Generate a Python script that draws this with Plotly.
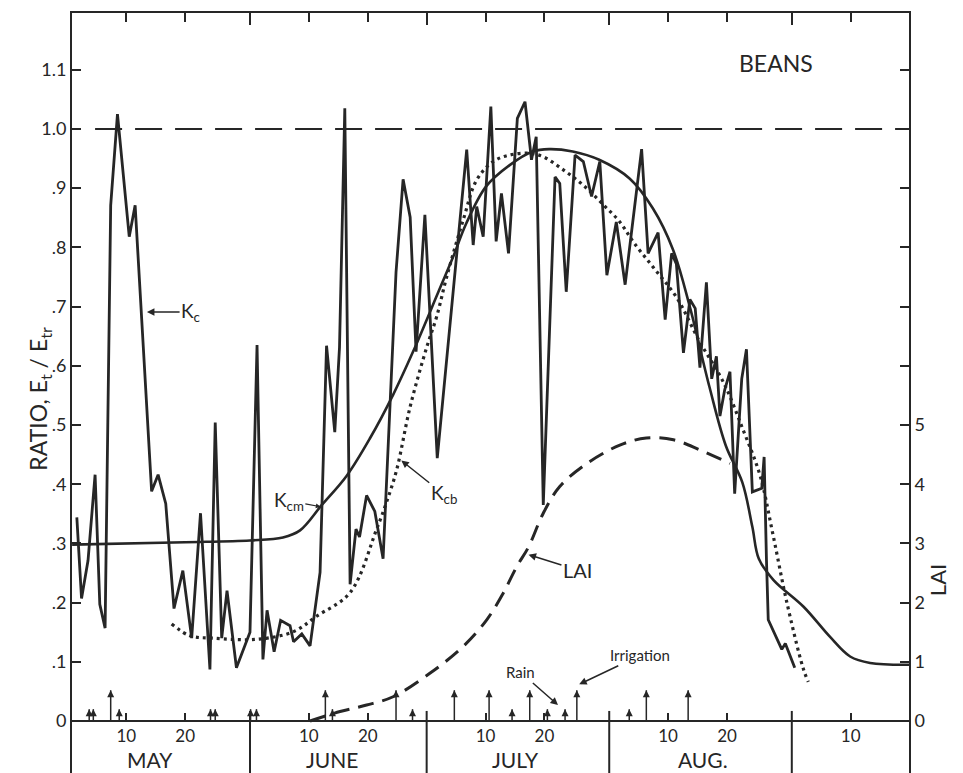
import plotly.graph_objects as go

# x axis: day of season (May d -> d, June d -> 31+d, July d -> 61+d, Aug d -> 92+d, Sep d -> 123+d)
kc_day = [1.6, 2.4, 3.5, 4.7, 5.5, 6.4, 7.35, 8.5, 10.5, 11.5, 14.3, 15.4, 16.7, 18.1, 19.6,
          21.1, 22.6, 24.2, 25.1, 26.2, 27.1, 28.7, 31.0, 32.2, 33.2, 33.9, 35.1, 36.2, 37.8,
          38.4, 39.8, 41.2, 42.9, 44.0, 45.4, 46.2, 47.1, 48.0, 49.0, 49.6, 50.8, 52.2, 53.6,
          55.8, 57.0, 58.2, 59.2, 60.7, 62.8, 66.7, 67.8, 68.9, 69.5, 70.6, 71.9, 72.8, 73.7,
          74.9, 76.4, 77.7, 78.8, 79.6, 80.8, 82.8, 83.6, 84.7, 86.2, 87.6, 89.0, 90.4, 91.6,
          93.2, 94.7, 97.5, 98.6, 100.3, 101.5, 102.6, 103.4, 104.6, 105.7, 106.6, 107.4,
          108.5, 109.1, 109.4, 110.2, 110.8, 111.6, 112.5, 113.3, 114.5, 115.3, 116.3, 117.9,
          118.3, 118.7, 119.0, 121.3, 121.9, 123.5]
kc_val = [0.344, 0.207, 0.271, 0.416, 0.197, 0.157, 0.871, 1.025, 0.818, 0.871, 0.388, 0.416,
          0.367, 0.190, 0.254, 0.140, 0.351, 0.087, 0.504, 0.140, 0.220, 0.090, 0.150, 0.635,
          0.104, 0.187, 0.117, 0.170, 0.161, 0.134, 0.147, 0.127, 0.251, 0.634, 0.488, 0.631,
          1.035, 0.231, 0.324, 0.311, 0.381, 0.354, 0.274, 0.758, 0.915, 0.851, 0.624, 0.855,
          0.444, 0.846, 0.965, 0.804, 0.869, 0.818, 1.038, 0.810, 0.891, 0.790, 1.018, 1.046,
          0.948, 0.987, 0.365, 0.919, 0.908, 0.725, 0.956, 0.945, 0.886, 0.945, 0.753, 0.843,
          0.737, 0.966, 0.790, 0.825, 0.678, 0.790, 0.772, 0.622, 0.712, 0.697, 0.597, 0.741,
          0.619, 0.578, 0.616, 0.515, 0.559, 0.590, 0.384, 0.578, 0.628, 0.387, 0.393, 0.446,
          0.271, 0.171, 0.121, 0.131, 0.090]

kcm_day = [0.8, 20.0, 31.0, 36.6, 39.5, 43.2, 47.4, 51.4, 55.3, 58.7, 63.0, 65.5, 67.7, 71.1,
           75.1, 79.0, 81.8, 85.8, 90.3, 95.5, 99.4, 102.8, 105.6, 109.0, 111.8, 114.6, 116.3,
           117.4, 119.9, 125.0, 129.5, 132.9, 136.3, 142.9]
kcm_val = [0.298, 0.302, 0.305, 0.310, 0.322, 0.365, 0.414, 0.478, 0.551, 0.624, 0.725, 0.784,
           0.840, 0.903, 0.939, 0.962, 0.966, 0.962, 0.948, 0.916, 0.866, 0.797, 0.703, 0.565,
           0.465, 0.403, 0.328, 0.274, 0.238, 0.193, 0.142, 0.109, 0.098, 0.095]

kcb_day = [17.7, 20.8, 24.8, 32.1, 38.4, 42.3, 48.0, 52.5, 54.2, 55.9, 58.2, 61.0, 62.7, 64.4,
           67.2, 69.5, 72.3, 75.1, 78.5, 80.8, 84.2, 87.6, 91.0, 93.8, 96.1, 99.5, 103.4, 107.4,
           111.4, 114.8, 117.6, 119.8, 122.1, 124.9, 125.8]
kcb_val = [0.164, 0.144, 0.140, 0.138, 0.151, 0.177, 0.217, 0.324, 0.370, 0.424, 0.531, 0.631,
           0.683, 0.750, 0.846, 0.914, 0.945, 0.956, 0.959, 0.953, 0.931, 0.905, 0.872, 0.843,
           0.809, 0.766, 0.716, 0.640, 0.572, 0.490, 0.415, 0.315, 0.203, 0.090, 0.066]

lai_day = [41.2, 46.3, 50.8, 55.3, 61.6, 67.2, 71.2, 74.0, 76.3, 78.3, 80.8, 83.6, 88.2, 93.8,
           98.3, 102.9, 107.4, 112.5]
lai_val = [0.0, 0.16, 0.27, 0.41, 0.81, 1.26, 1.71, 2.16, 2.61, 2.94, 3.51, 3.96, 4.35, 4.66,
           4.78, 4.75, 4.58, 4.35]

rain_day = [3.7, 4.4, 8.8, 24.3, 25.1, 31.1, 32.1, 45.0, 58.6, 75.5, 81.5, 84.5, 95.4]
irrigation_day = [7.35, 43.8, 55.8, 65.7, 71.6, 78.5, 86.5, 98.3, 105.4]
rain_arrow_height = 0.02
irrigation_arrow_height = 0.052

ratio_ticks = [0, 0.1, 0.2, 0.3, 0.4, 0.5, 0.6, 0.7, 0.8, 0.9, 1.0, 1.1]
ratio_tick_text = ["0", ".1", ".2", ".3", ".4", ".5", ".6", ".7", ".8", ".9", "1.0", "1.1"]
lai_ticks = [0, 1, 2, 3, 4, 5]
lai_tick_text = ["0", "1", "2", "3", "4", "5"]
lai_unlabelled_ticks = [6, 7, 8, 9, 10, 11]
day_ticks = [10, 20, 41, 51, 71, 81, 102, 112, 133]
day_tick_text = ["10", "20", "10", "20", "10", "20", "10", "20", "10"]
month_end_day = [31, 61, 92, 123]
month_names = ["MAY", "JUNE", "JULY", "AUG."]
month_label_day = [14, 45, 76, 108]

INK = "#262626"
FONT = "Lato"
X_RANGE = [0.78, 142.9]
Y_RANGE = [-0.0878, 1.1959]

fig = go.Figure()

fig.add_trace(go.Scatter(x=[4.7, X_RANGE[1]], y=[1.0, 1.0], mode="lines", xaxis="x2",
                         line=dict(color=INK, width=2, dash="27px,13px"), showlegend=False,
                         hoverinfo="skip"))
fig.add_trace(go.Scatter(x=kcm_day, y=kcm_val, mode="lines", line_shape="spline",
                         line=dict(color=INK, width=2.6), showlegend=False))
fig.add_trace(go.Scatter(x=kcb_day, y=kcb_val, mode="lines", line_shape="spline",
                         line=dict(color=INK, width=3.2, dash="3px,4px"), showlegend=False))
fig.add_trace(go.Scatter(x=kc_day, y=kc_val, mode="lines",
                         line=dict(color=INK, width=2.8), showlegend=False))
fig.add_trace(go.Scatter(x=lai_day, y=lai_val, mode="lines", line_shape="spline", yaxis="y2",
                         line=dict(color=INK, width=3, dash="16px,9px"), showlegend=False))


def arrow_traces(days, height):
    xs, ys = [], []
    for d in days:
        xs += [d, d, None]
        ys += [0.0, height, None]
    stems = go.Scatter(x=xs, y=ys, mode="lines", line=dict(color=INK, width=1.5),
                       showlegend=False, hoverinfo="skip")
    heads = go.Scatter(x=days, y=[height] * len(days), mode="markers",
                       marker=dict(symbol="arrow-up", size=7, color=INK,
                                   line=dict(width=0)),
                       showlegend=False, hoverinfo="skip")
    return [stems, heads]


for tr in arrow_traces(rain_day, rain_arrow_height):
    fig.add_trace(tr)
for tr in arrow_traces(irrigation_day, irrigation_arrow_height):
    fig.add_trace(tr)

label_font = dict(family=FONT, size=19, color=INK)
annotations = [
    dict(x=13.5, y=0.691, ax=21.0, ay=0.691, xref="x", yref="y", axref="x", ayref="y",
         text="K<sub>c</sub>", showarrow=True, arrowhead=2, arrowwidth=1.5, arrowcolor=INK,
         font=label_font),
    dict(x=43.0, y=0.362, ax=37.6, ay=0.372, xref="x", yref="y", axref="x", ayref="y",
         text="K<sub>cm</sub>", showarrow=True, arrowhead=2, arrowwidth=1.2, arrowsize=0.8,
         arrowcolor=INK, font=label_font),
    dict(x=56.7, y=0.44, ax=63.9, ay=0.383, xref="x", yref="y", axref="x", ayref="y",
         text="K<sub>cb</sub>", showarrow=True, arrowhead=2, arrowwidth=1.5, arrowcolor=INK,
         font=label_font),
    dict(x=78.3, y=0.281, ax=86.6, ay=0.255, xref="x", yref="y", axref="x", ayref="y",
         text="LAI", showarrow=True, arrowhead=2, arrowwidth=1.5, arrowcolor=INK,
         font=dict(family=FONT, size=20, color=INK)),
    dict(x=83.3, y=0.027, ax=77.0, ay=0.082, xref="x", yref="y", axref="x", ayref="y",
         text="Rain", showarrow=True, arrowhead=2, arrowwidth=1.5, arrowcolor=INK,
         font=dict(family=FONT, size=15, color=INK)),
    dict(x=86.9, y=0.062, ax=97.3, ay=0.111, xref="x", yref="y", axref="x", ayref="y",
         text="Irrigation", showarrow=True, arrowhead=2, arrowwidth=1.5, arrowcolor=INK,
         font=dict(family=FONT, size=15, color=INK)),
    dict(x=120.3, y=1.111, xref="x", yref="y", text="BEANS", showarrow=False,
         font=dict(family=FONT, size=23, color=INK)),
    dict(x=-0.06, y=0.545, xref="paper", yref="y", text="RATIO, E<sub>t</sub> / E<sub>tr</sub>",
         textangle=-90, showarrow=False, font=dict(family=FONT, size=23, color=INK)),
    dict(x=1.052, y=0.238, xref="paper", yref="y", text="LAI", textangle=-90, showarrow=False,
         font=dict(family=FONT, size=22, color=INK)),
]
for name, d in zip(month_names, month_label_day):
    annotations.append(dict(x=d, y=-0.065, xref="x", yref="y", text=name, showarrow=False,
                            font=dict(family=FONT, size=21, color=INK)))

shapes = []
for d in month_end_day:
    shapes.append(dict(type="line", xref="x", yref="y", x0=d, x1=d, y0=Y_RANGE[0], y1=0.017,
                       line=dict(color=INK, width=2)))

axis_common = dict(showgrid=False, zeroline=False, showline=True, linecolor=INK, linewidth=2,
                   ticks="inside", tickcolor=INK, tickwidth=2)

# the page body adds an 8 px offset, so the figure is 8 px smaller than the window
fig.update_layout(
    width=955, height=765,
    margin=dict(l=64, r=54, t=5, b=0, pad=0),
    paper_bgcolor="white", plot_bgcolor="white",
    font=dict(family=FONT, color=INK),
    xaxis=dict(range=X_RANGE, side="top", tickvals=day_ticks,
               minor=dict(tickvals=month_end_day, ticks="inside", ticklen=12, tickwidth=2,
                          tickcolor=INK, showgrid=False),
               showticklabels=False, ticklen=9, **axis_common),
    xaxis2=dict(range=X_RANGE, overlaying="x", anchor="free", position=52 / 760, side="bottom",
                tickvals=day_ticks, ticktext=day_tick_text, ticklen=7,
                tickfont=dict(family=FONT, size=17, color=INK), **axis_common),
    yaxis=dict(range=Y_RANGE, tickvals=ratio_ticks, ticktext=ratio_tick_text, ticklen=9,
               tickfont=dict(family=FONT, size=18, color=INK), **axis_common),
    yaxis2=dict(range=[Y_RANGE[0] * 10, Y_RANGE[1] * 10], overlaying="y", side="right",
                tickvals=lai_ticks, ticktext=lai_tick_text, ticklen=9,
                minor=dict(tickvals=lai_unlabelled_ticks, ticks="inside", ticklen=9, tickwidth=2,
                           tickcolor=INK, showgrid=False),
                tickfont=dict(family=FONT, size=18, color=INK), **axis_common),
    annotations=annotations,
    shapes=shapes,
    showlegend=False,
)

fig.write_html("out.html")
